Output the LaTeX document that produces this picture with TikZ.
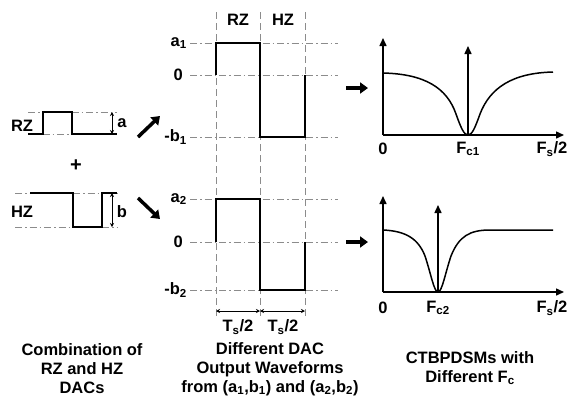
\documentclass[tikz,border=0pt]{standalone}
\usepackage{fontspec}
\setmainfont{Liberation Sans}
\usetikzlibrary{arrows.meta}
\begin{document}
\begin{tikzpicture}[x=1pt,y=-1pt,
  lbl/.style={font=\fontsize{16.5}{18}\selectfont\bfseries, inner sep=0pt},
  captext/.style={font=\fontsize{16.5}{19}\selectfont\bfseries, align=center, inner sep=0pt},
  guide/.style={black!45, line width=1pt, dash pattern=on 7pt off 3pt on 1.5pt off 3pt},
  vguide/.style={black!45, line width=1pt, dash pattern=on 7pt off 4pt},
  wave/.style={line width=2pt, line join=miter},
  swave/.style={line width=1.5pt, line join=miter},
  bigarrow/.style={line width=3.5pt, -{Triangle[length=8pt,width=11pt]}},
  axis/.style={line width=1.5pt, -{Triangle[length=8pt,width=7pt]}},
  meas/.style={line width=0.8pt, {Stealth[length=4pt,width=4pt]}-{Stealth[length=4pt,width=4pt]}},
  curve/.style={line width=1.5pt}
]
\useasboundingbox (0,0) rectangle (568,400);

% ---------- left: RZ and HZ ----------
\draw[guide] (28,112) -- (117,112);
\draw[guide] (28,134) -- (117,134);
\draw[swave] (28,134) -- (43,134) -- (43,112) -- (72,112) -- (72,134) -- (117,134);
\coordinate (ma1) at (112,112); \coordinate (ma2) at (112,134);
\draw[meas] (ma1) -- (ma2);
\node[lbl] (rzl) at (22,126) {RZ};
\node[lbl] (al) at (122,123) {a};
\node[lbl, font=\fontsize{20}{20}\selectfont\bfseries] (plus) at (76,166) {+};

\draw[guide] (15,193) -- (117,193);
\draw[guide] (15,227) -- (117,227);
\draw[swave] (30,193) -- (73,193) -- (73,227) -- (102,227) -- (102,193) -- (117,193);
\coordinate (mb1) at (112,193); \coordinate (mb2) at (112,227);
\draw[meas] (mb1) -- (mb2);
\node[lbl] (hzl) at (22,212) {HZ};
\node[lbl] (bl) at (122,212) {b};

% diagonal arrows
\coordinate (d1s) at (138,137); \coordinate (d1e) at (160,116);
\coordinate (d2s) at (138,198); \coordinate (d2e) at (160,219);
\draw[bigarrow] (d1s) -- (d1e);
\draw[bigarrow] (d2s) -- (d2e);

% ---------- middle: waveforms ----------
\foreach \yy in {43,75,137,199,242,290} \draw[guide] (190,\yy) -- (338,\yy);
\foreach \xx in {216,260,305} \draw[vguide] (\xx,12) -- (\xx,318);

\node[lbl] (trz) at (238,20) {RZ};
\node[lbl] (thz) at (283,20) {HZ};

\draw[wave] (216,75) -- (216,43) -- (260,43) -- (260,137) -- (305,137) -- (305,75);
\draw[wave] (216,242) -- (216,199) -- (260,199) -- (260,290) -- (305,290) -- (305,242);

\node[lbl, anchor=east] (la1) at (187,43) {a\textsubscript{1}};
\node[lbl, anchor=east] (l01) at (183,75) {0};
\node[lbl, anchor=east] (lb1) at (187,137) {-b\textsubscript{1}};
\node[lbl, anchor=east] (la2) at (187,199) {a\textsubscript{2}};
\node[lbl, anchor=east] (l02) at (183,242) {0};
\node[lbl, anchor=east] (lb2) at (187,290) {-b\textsubscript{2}};

\coordinate (t1) at (216,311); \coordinate (t2) at (260,311); \coordinate (t3) at (305,311);
\draw[meas] (t1) -- (t2);
\draw[meas] (t2) -- (t3);
\node[lbl] (ts1) at (238,327) {T\textsubscript{s}/2};
\node[lbl] (ts2) at (283,327) {T\textsubscript{s}/2};

% right arrows
\coordinate (r1s) at (346,88); \coordinate (r1e) at (368,88);
\coordinate (r2s) at (346,242); \coordinate (r2e) at (368,242);
\draw[bigarrow] (r1s) -- (r1e);
\draw[bigarrow] (r2s) -- (r2e);

% ---------- right: spectra ----------
\coordinate (o1) at (383,135);
\draw[axis] (o1) -- (383,38);
\draw[axis] (o1) -- (564,135);
\draw[axis] (468,135) -- (468,46);
\draw[curve] (383,73) .. controls (425,74) and (447,88) .. (456,114)
  .. controls (461,128) and (464,135) .. (468,135)
  .. controls (472,135) and (475,128) .. (480,114)
  .. controls (490,88) and (512,73) .. (553,72);
\node[lbl] (z1) at (383,149) {0};
\node[lbl] (fc1) at (468,149) {F\textsubscript{c1}};
\node[lbl] (fs1) at (552,149) {F\textsubscript{s}/2};

\coordinate (o2) at (383,292);
\draw[axis] (o2) -- (383,196);
\draw[axis] (o2) -- (564,292);
\draw[axis] (438,292) -- (438,205);
\draw[curve] (383,230) .. controls (405,231) and (418,238) .. (425,256)
  .. controls (431,274) and (434,292) .. (438,292)
  .. controls (442,292) and (445,274) .. (451,256)
  .. controls (459,236) and (470,230) .. (490,230) -- (553,230);
\node[lbl] (z2) at (383,308) {0};
\node[lbl] (fc2) at (438,308) {F\textsubscript{c2}};
\node[lbl] (fs2) at (552,308) {F\textsubscript{s}/2};

% ---------- captions ----------
\node[captext] (c1) at (82,369) {Combination of\\RZ and HZ\\DACs};
\node[captext] (c2) at (270,369) {Different DAC\\Output Waveforms\\from (a\textsubscript{1},b\textsubscript{1}) and (a\textsubscript{2},b\textsubscript{2})};
\node[captext] (c3) at (470,368) {CTBPDSMs with\\Different F\textsubscript{c}};
\end{tikzpicture}
\end{document}
